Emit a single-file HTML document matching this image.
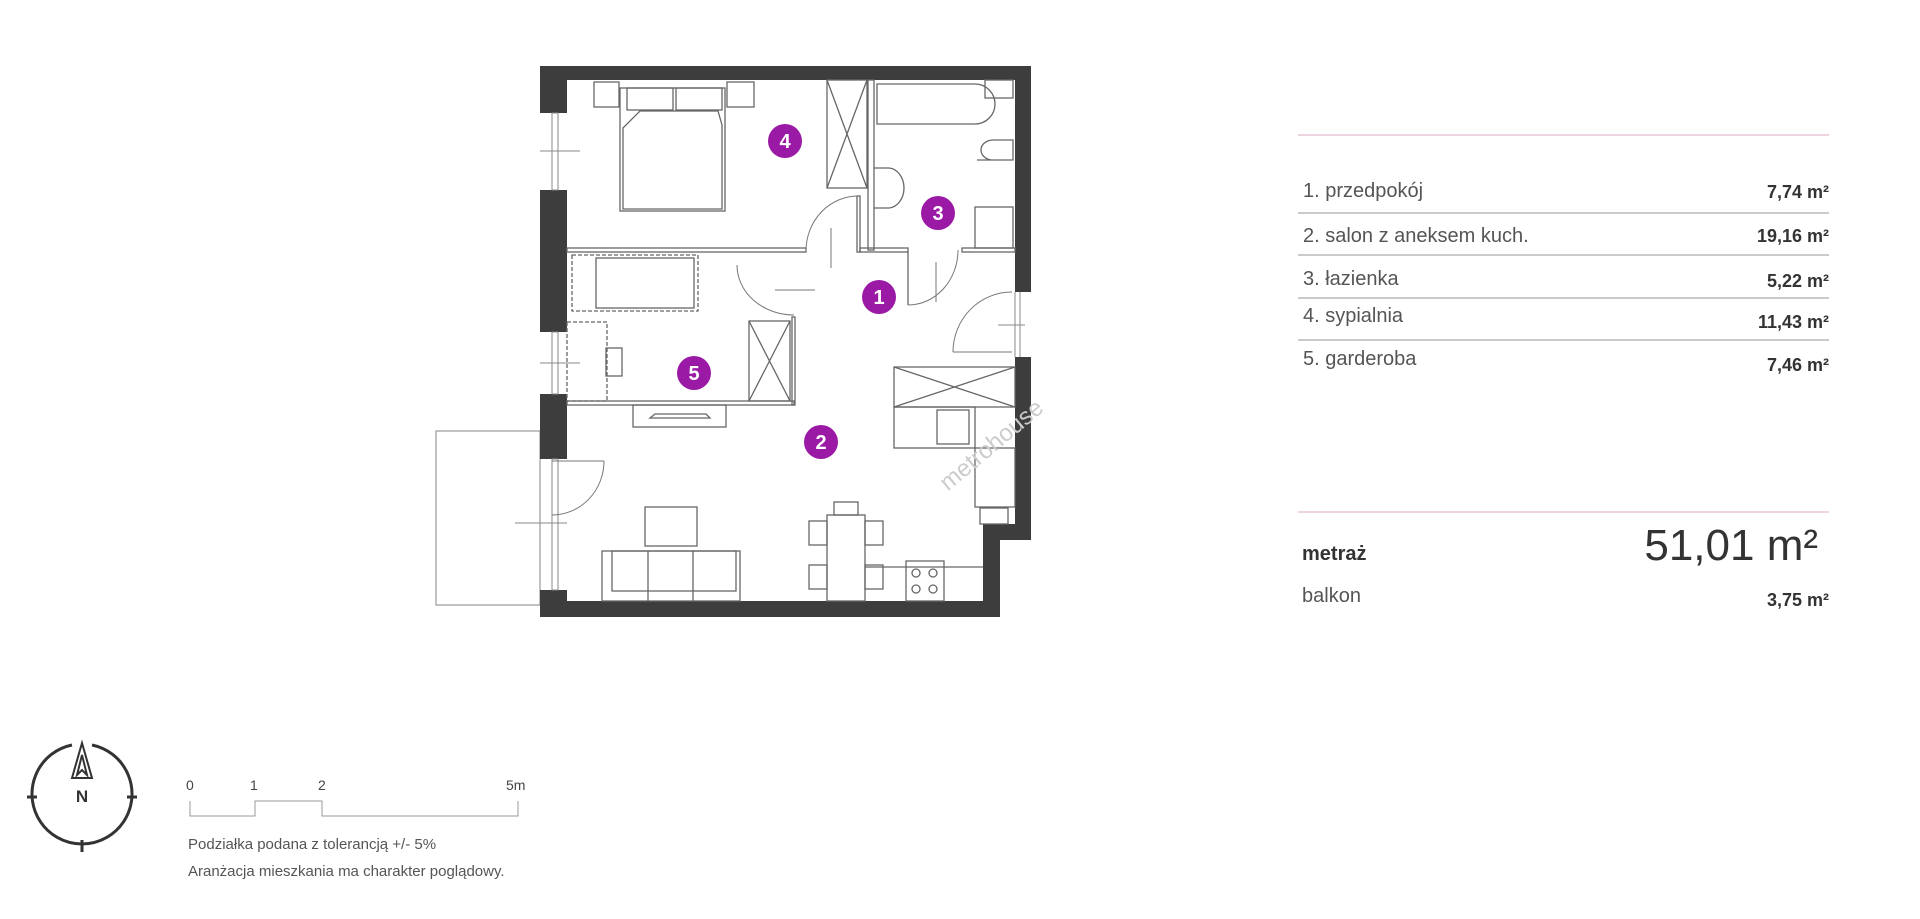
<!DOCTYPE html>
<html><head><meta charset="utf-8"><style>
html,body{margin:0;padding:0;background:#fff;}
svg{display:block;}
text{font-family:"Liberation Sans",sans-serif;}
</style></head><body>
<svg width="1920" height="919" viewBox="0 0 1920 919" xmlns="http://www.w3.org/2000/svg">
<rect width="1920" height="919" fill="#fff"/>
<!-- balcony -->
<g fill="none" stroke="#999" stroke-width="1.2">
<rect x="436" y="431" width="104" height="174"/>
</g>
<!-- walls -->
<g fill="#3d3d3d">
<rect x="540" y="66" width="491" height="14"/>
<rect x="540" y="66" width="27" height="47"/>
<rect x="540" y="190" width="27" height="142"/>
<rect x="540" y="394" width="27" height="65"/>
<rect x="540" y="590" width="27" height="27"/>
<rect x="540" y="601" width="460" height="16"/>
<rect x="1015" y="66" width="16" height="226"/>
<rect x="1015" y="357" width="16" height="183"/>
<rect x="983" y="524" width="48" height="16"/>
<rect x="983" y="524" width="17" height="93"/>
</g>
<!-- windows -->
<g fill="none" stroke="#888" stroke-width="1">
<rect x="552" y="113" width="6" height="77"/><line x1="540" y1="151" x2="580" y2="151"/>
<rect x="552" y="332" width="6" height="62"/><line x1="540" y1="363" x2="580" y2="363"/>
<rect x="552" y="459" width="6" height="131"/><line x1="515" y1="523" x2="567" y2="523"/>
<line x1="1015" y1="292" x2="1015" y2="357"/><line x1="1020" y1="292" x2="1020" y2="357"/>
<line x1="998" y1="325" x2="1025" y2="325"/>
</g>
<!-- interior walls & furniture -->
<g fill="none" stroke="#666" stroke-width="1.3">
<rect x="567" y="248" width="239" height="4"/>
<rect x="567" y="401" width="227" height="4"/>
<rect x="792" y="317" width="3" height="88"/>
<rect x="868" y="80" width="6" height="170"/>
<rect x="857" y="196" width="3" height="56"/>
<rect x="860" y="248" width="48" height="4"/>
<line x1="908" y1="252" x2="908" y2="305"/>
<rect x="962" y="248" width="53" height="4"/>
<!-- closet bedroom -->
<rect x="827" y="80" width="40" height="108"/><path d="M827 80 L867 188 M867 80 L827 188"/>
<!-- bath -->
<path d="M877 84 H975 A15 15 0 0 1 975 124 H877 Z"/>
<rect x="985" y="80" width="28" height="18"/>
<path d="M977 160 h36 v-20 h-20 a12 10 0 0 0 0 20"/>
<rect x="975" y="207" width="38" height="41"/>
<path d="M874 168 h14 a16 20 0 0 1 0 40 h-14"/>
<!-- bed -->
<rect x="620" y="88" width="105" height="123"/>
<rect x="627" y="88" width="46" height="22"/><rect x="676" y="88" width="46" height="22"/>
<path d="M623 128 L640 111 H718 L722 125 V209 H623 Z"/>
<rect x="594" y="82" width="25" height="25"/><rect x="727" y="82" width="27" height="25"/>
<!-- garderoba -->
<rect x="572" y="255" width="126" height="56" stroke-dasharray="4 2"/>
<rect x="596" y="258" width="98" height="50"/>
<rect x="567" y="322" width="40" height="79" stroke-dasharray="4 2"/>
<rect x="606" y="348" width="16" height="28"/>
<rect x="749" y="321" width="41" height="80"/><path d="M749 321 L790 401 M790 321 L749 401"/>
<!-- tv -->
<rect x="633" y="405" width="93" height="22"/><path d="M650 418 H710 L706 414 H655 Z"/>
<!-- kitchen -->
<rect x="894" y="367" width="121" height="40"/><path d="M894 367 L1015 407 M1015 367 L894 407"/>
<rect x="894" y="407" width="81" height="41"/>
<rect x="937" y="410" width="32" height="34"/>
<rect x="975" y="448" width="40" height="59"/>
<rect x="980" y="508" width="28" height="16"/>
<!-- living -->
<rect x="602" y="551" width="138" height="50"/><line x1="648" y1="551" x2="648" y2="601"/><line x1="693" y1="551" x2="693" y2="601"/>
<rect x="612" y="551" width="124" height="40"/>
<rect x="645" y="507" width="52" height="39"/>
<rect x="827" y="515" width="38" height="86"/><rect x="834" y="502" width="24" height="13"/>
<rect x="809" y="521" width="18" height="24"/><rect x="865" y="521" width="18" height="24"/>
<rect x="809" y="565" width="18" height="24"/><rect x="865" y="565" width="18" height="24"/>
<line x1="865" y1="567" x2="983" y2="567"/>
<rect x="906" y="561" width="38" height="40"/>
<circle cx="916" cy="573" r="4"/><circle cx="933" cy="573" r="4"/><circle cx="916" cy="589" r="4"/><circle cx="933" cy="589" r="4"/>
</g>
<!-- doors -->
<g fill="none" stroke="#777" stroke-width="1">
<path d="M806 251 A52 55 0 0 1 858 196"/>
<path d="M737 265 A57 50 0 0 0 794 315"/><line x1="775" y1="290" x2="815" y2="290"/>
<path d="M908 305 A50 55 0 0 0 958 250"/><line x1="936" y1="262" x2="936" y2="302"/>
<line x1="831" y1="228" x2="831" y2="268"/>
<path d="M1012 292 A59 60 0 0 0 953 352"/><line x1="953" y1="352" x2="1012" y2="352"/>
<path d="M604 461 A52 54 0 0 1 552 515"/><line x1="552" y1="461" x2="604" y2="461"/>
</g>
<text x="900" y="480" font-size="24" fill="#ccc" transform="rotate(-40 940 420)">metrohouse</text>
<!-- numbers -->
<g fill="#9a1aa6">
<circle cx="785" cy="141" r="17"/><circle cx="938" cy="213" r="17"/><circle cx="879" cy="297" r="17"/>
<circle cx="694" cy="373" r="17"/><circle cx="821" cy="442" r="17"/>
</g>
<g fill="#fff" font-size="20" font-weight="bold" text-anchor="middle">
<text x="785" y="148">4</text><text x="938" y="220">3</text><text x="879" y="304">1</text>
<text x="694" y="380">5</text><text x="821" y="449">2</text>
</g>
<!-- table -->
<line x1="1298" y1="135" x2="1829" y2="135" stroke="#e8c6d6" stroke-width="1.5"/>
<g stroke="#aaa" stroke-width="1.3">
<line x1="1298" y1="213" x2="1829" y2="213"/><line x1="1298" y1="255" x2="1829" y2="255"/>
<line x1="1298" y1="298" x2="1829" y2="298"/><line x1="1298" y1="340" x2="1829" y2="340"/>
</g>
<line x1="1298" y1="512" x2="1829" y2="512" stroke="#e8c6d6" stroke-width="1.5"/>
<g font-size="20" fill="#555">
<text x="1303" y="197">1. przedpokój</text>
<text x="1303" y="242">2. salon z aneksem kuch.</text>
<text x="1303" y="285">3. łazienka</text>
<text x="1303" y="322">4. sypialnia</text>
<text x="1303" y="365">5. garderoba</text>
<text x="1302" y="602">balkon</text>
</g>
<g font-size="18" fill="#333" font-weight="bold" text-anchor="end">
<text x="1829" y="198">7,74 m²</text><text x="1829" y="242">19,16 m²</text>
<text x="1829" y="287">5,22 m²</text><text x="1829" y="328">11,43 m²</text>
<text x="1829" y="371">7,46 m²</text><text x="1829" y="606">3,75 m²</text>
</g>
<text x="1302" y="560" font-size="20" font-weight="bold" fill="#333">metraż</text>
<text x="1818" y="560" font-size="44" fill="#333" text-anchor="end">51,01 m²</text>
<!-- compass -->
<g fill="none" stroke="#333" stroke-width="3">
<path d="M72 745 A50 50 0 1 0 92 745"/>
<line x1="27" y1="797" x2="37" y2="797"/><line x1="127" y1="797" x2="137" y2="797"/>
<line x1="82" y1="840" x2="82" y2="852"/>
<path d="M82 743 L72 778 H92 Z M82 755 L77 775 L82 770 L87 775 Z" stroke-width="2"/>
</g>
<text x="82" y="802" font-size="17" font-weight="bold" fill="#333" text-anchor="middle">N</text>
<!-- scale -->
<g font-size="14" fill="#444">
<text x="186" y="790">0</text><text x="250" y="790">1</text><text x="318" y="790">2</text><text x="506" y="790">5m</text>
</g>
<path d="M190 801 V816 H255 V801 H322 V816 H518 V801" fill="none" stroke="#999" stroke-width="1"/>
<g font-size="15" fill="#555">
<text x="188" y="849">Podziałka podana z tolerancją +/- 5%</text>
<text x="188" y="876">Aranżacja mieszkania ma charakter poglądowy.</text>
</g>
</svg>
</body></html>
